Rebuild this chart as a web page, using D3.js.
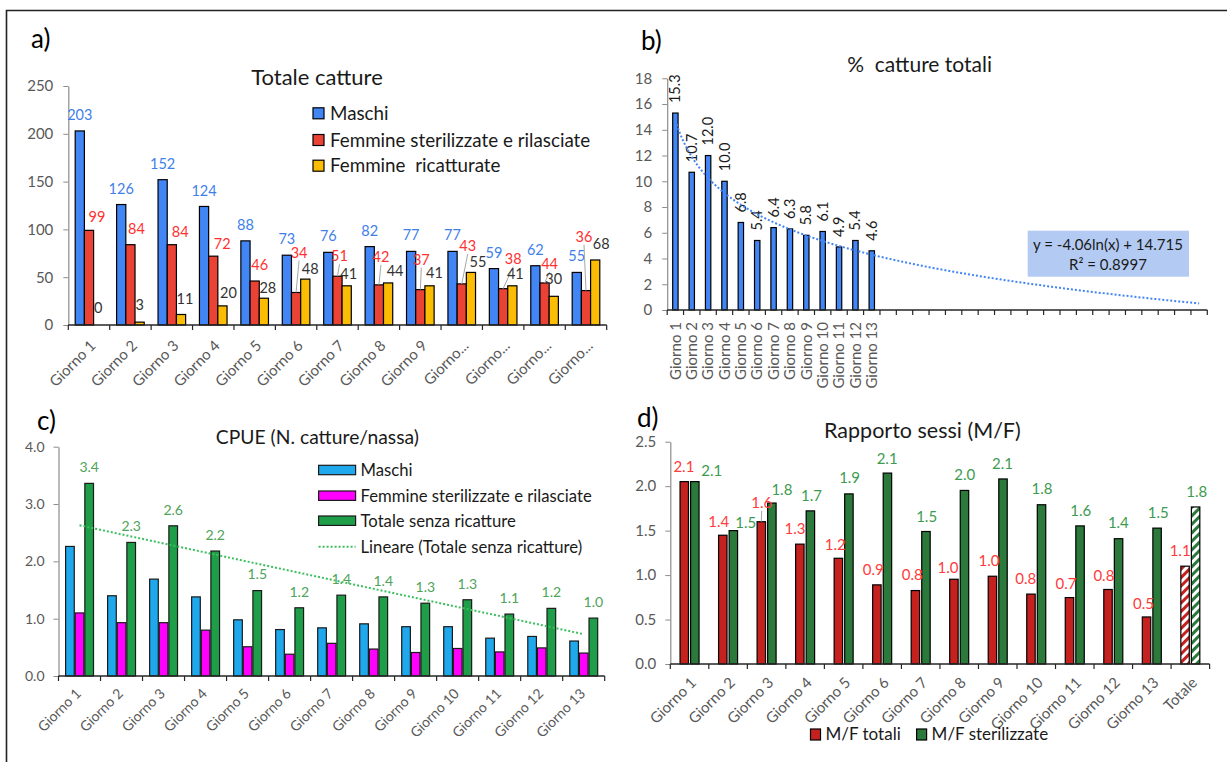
<!DOCTYPE html>
<html>
<head>
<meta charset="utf-8">
<script src="https://cdnjs.cloudflare.com/ajax/libs/d3/7.8.5/d3.min.js"></script>
<style>
    body { margin: 0; background: #fff; }
    svg text { font-family: Lato, 'Open Sans', sans-serif; }
</style>
</head>
<body>
<svg id="chart" width="1227" height="762"></svg>
<script>
// Data
const giorni = ['Giorno 1', 'Giorno 2', 'Giorno 3', 'Giorno 4', 'Giorno 5', 'Giorno 6', 'Giorno 7',
    'Giorno 8', 'Giorno 9', 'Giorno 10', 'Giorno 11', 'Giorno 12', 'Giorno 13'];
const giorniBrevi = ['Giorno 1', 'Giorno 2', 'Giorno 3', 'Giorno 4', 'Giorno 5', 'Giorno 6', 'Giorno 7',
    'Giorno 8', 'Giorno 9', 'Giorno...', 'Giorno...', 'Giorno...', 'Giorno...'];

// a) Totale catture
const maschi = [203, 126, 152, 124, 88, 73, 76, 82, 77, 77, 59, 62, 55];
const femmineSterilizzate = [99, 84, 84, 72, 46, 34, 51, 42, 37, 43, 38, 44, 36];
const femmineRicatturate = [0, 3, 11, 20, 28, 48, 41, 44, 41, 55, 41, 30, 68];
const ticksA = [0, 50, 100, 150, 200, 250];

// b) % catture totali
const percentualeCatture = [15.3, 10.7, 12.0, 10.0, 6.8, 5.4, 6.4, 6.3, 5.8, 6.1, 4.9, 5.4, 4.6];
const slotsB = 33;   // 13 days + forecast of the trendline
const ticksB = [0, 2, 4, 6, 8, 10, 12, 14, 16, 18];
const equazioneB = ['y = -4.06ln(x) + 14.715', 'R² = 0.8997'];

// c) CPUE
const cpueMaschi = [2.26, 1.40, 1.69, 1.38, 0.98, 0.81, 0.84, 0.91, 0.86, 0.86, 0.66, 0.69, 0.61];
const cpueFemmine = [1.10, 0.93, 0.93, 0.80, 0.51, 0.38, 0.57, 0.47, 0.41, 0.48, 0.42, 0.49, 0.40];
const cpueTotale = [3.36, 2.33, 2.62, 2.18, 1.49, 1.19, 1.41, 1.38, 1.27, 1.33, 1.08, 1.18, 1.01];
const ticksC = [0, 1, 2, 3, 4];

// d) Rapporto sessi
const categorieD = giorni.concat(['Totale']);
const mfTotali = [2.051, 1.448, 1.600, 1.348, 1.189, 0.890, 0.826, 0.953, 0.987, 0.786, 0.747, 0.838, 0.529, 1.100];
const mfSterilizzate = [2.051, 1.500, 1.810, 1.722, 1.913, 2.147, 1.490, 1.952, 2.081, 1.791, 1.553, 1.409, 1.528, 1.766];
const ticksD = [0, 0.5, 1, 1.5, 2, 2.5];

const svg = d3.select('#chart');
const GREY = '#595959';

// Frame of the figure (top and left edges visible)
svg.append('path')
    .attr('d', 'M6.5,762 L6.5,10.5 L1227,10.5')
    .attr('fill', 'none')
    .attr('stroke', '#222')
    .attr('stroke-width', 1.6);

// Hatch patterns for the "Totale" bars
const defs = svg.append('defs');
[['hatchRed', '#C5221F'], ['hatchGreen', '#2B7A3B']].forEach(([id, col]) => {
    const p = defs.append('pattern')
        .attr('id', id)
        .attr('patternUnits', 'userSpaceOnUse')
        .attr('width', 6).attr('height', 6)
        .attr('patternTransform', 'rotate(45)');
    p.append('rect').attr('width', 6).attr('height', 6).attr('fill', '#fff');
    p.append('rect').attr('width', 3).attr('height', 6).attr('fill', col);
});

// ---------- helpers ----------
function yAxis(g, scale, x, ticks, fmt, size, pad) {
    const axis = g.append('g')
        .attr('transform', `translate(${x},0)`)
        .call(d3.axisLeft(scale).tickValues(ticks).tickFormat(fmt).tickSize(5).tickSizeOuter(0).tickPadding(pad));
    axis.select('.domain').attr('stroke', '#8c8c8c').attr('stroke-width', 1.2);
    axis.selectAll('.tick line').attr('stroke', '#8c8c8c');
    axis.selectAll('text')
        .attr('fill', GREY)
        .style('font-size', size + 'px')
        .style('font-family', 'Lato, sans-serif');
}

function catAxis(g, scale, y, labels, opts) {
    const [x0, x1] = scale.range();
    g.append('line')
        .attr('x1', x0).attr('x2', x1).attr('y1', y).attr('y2', y)
        .attr('stroke', '#262626').attr('stroke-width', 1.4);
    const edges = scale.domain().map(d => scale(d)).concat([x1]);
    g.selectAll(null).data(edges).join('line')
        .attr('x1', d => d).attr('x2', d => d)
        .attr('y1', y).attr('y2', y + 5)
        .attr('stroke', '#262626').attr('stroke-width', 1.2);
    g.selectAll(null).data(scale.domain()).join('text')
        .attr('transform', d => `translate(${scale(d) + scale.bandwidth() / 2 + opts.dx},${y + opts.dy}) rotate(${opts.rotate})`)
        .attr('text-anchor', 'end')
        .attr('dy', '0.35em')
        .attr('fill', GREY)
        .style('font-size', opts.size + 'px')
        .text((d, i) => labels[i] || '');
}

function title(text, x, y, size) {
    svg.append('text')
        .attr('x', x).attr('y', y)
        .attr('text-anchor', 'middle')
        .attr('dy', '0.35em')
        .attr('fill', '#1a1a1a')
        .style('font-size', size + 'px')
        .style('white-space', 'pre')
        .text(text);
}

function panelLetter(text, x, y) {
    svg.append('text')
        .attr('x', x).attr('y', y)
        .attr('dy', '0.35em')
        .attr('fill', '#000')
        .style('font-size', '26px')
        .text(text);
}

// value labels: nudge = [dx, dy of label centre from bar top]
function valueLabels(g, values, cx, top, nudge, color, size, fmt) {
    values.forEach((v, i) => {
        const [dx, dy] = nudge[i];
        const lx = cx(i) + dx;
        const ly = top(i) + dy;
        if (-dy > 18) {
            g.append('line')
                .attr('x1', cx(i)).attr('y1', top(i))
                .attr('x2', lx).attr('y2', ly + 8)
                .attr('stroke', '#a6a6a6').attr('stroke-width', 1);
        }
        g.append('text')
            .attr('x', lx).attr('y', ly)
            .attr('dy', '0.35em')
            .attr('text-anchor', 'middle')
            .attr('fill', color)
            .style('font-size', size + 'px')
            .text(fmt(v));
    });
}

// ---------- a) Totale catture ----------
const gA = svg.append('g');
const xA = d3.scaleBand().domain(giorni).range([68.3, 606.7]);
const innerA = d3.scaleBand().domain(['m', 'f', 'r']).range([6.9, 34.5]);
const yA = d3.scaleLinear().domain([0, 250]).range([325, 86]);

const seriesA = [
    { key: 'm', name: 'Maschi', values: maschi, fill: '#4285F4', text: '#3F7FE9' },
    { key: 'f', name: 'Femmine sterilizzate e rilasciate', values: femmineSterilizzate, fill: '#EA4335', text: '#FF3030' },
    { key: 'r', name: 'Femmine  ricatturate', values: femmineRicatturate, fill: '#FBBC04', text: '#333333' }
];

seriesA.forEach(s => {
    gA.selectAll(null).data(s.values).join('rect')
        .attr('x', (d, i) => xA(giorni[i]) + innerA(s.key))
        .attr('width', innerA.bandwidth())
        .attr('y', d => yA(d))
        .attr('height', d => yA(0) - yA(d))
        .attr('fill', s.fill)
        .attr('stroke', '#000')
        .attr('stroke-width', 1.2);
});

yAxis(gA, yA, 68.3, ticksA, d3.format('d'), 15, 10);
catAxis(gA, xA, 325, giorniBrevi, { dx: 4, dy: 18, rotate: -45, size: 15 });

const nudgeM = maschi.map(() => [0, -16]);
const nudgeF = [[8, -13.4], [6, -15.7], [8.4, -12.7], [9, -12], [5, -16], [3, -40], [2, -20], [2, -28],
    [1, -30], [6, -38], [10, -30], [5, -19], [-2, -54]];
const nudgeR = [[0, -16.7], [0, -17], [4, -15.5], [6, -13], [4, -10.5], [5, -10], [2, -12], [7, -12],
    [5, -12.5], [7, -10], [3, -11.5], [0, -17], [6, -16]];
[nudgeM, nudgeF, nudgeR].forEach((nudge, k) => {
    const s = seriesA[k];
    valueLabels(gA, s.values,
        i => xA(giorni[i]) + innerA(s.key) + innerA.bandwidth() / 2,
        i => yA(s.values[i]), nudge, s.text, 14.5, d3.format('d'));
});

// legend a
seriesA.forEach((s, i) => {
    const ly = [113.3, 140, 165.7][i];
    gA.append('rect')
        .attr('x', 313).attr('y', ly - 5.5).attr('width', 11).attr('height', 11)
        .attr('fill', s.fill).attr('stroke', '#000').attr('stroke-width', 1.2);
    gA.append('text')
        .attr('x', 330).attr('y', ly).attr('dy', '0.35em')
        .attr('fill', '#1a1a1a')
        .style('font-size', '18.8px')
        .style('white-space', 'pre')
        .text(s.name);
});

panelLetter('a)', 31, 39);
title('Totale catture', 317, 77.7, 22);

// ---------- b) % catture totali ----------
const gB = svg.append('g');
const slots = d3.range(1, slotsB + 1);
const xB = d3.scaleBand().domain(slots).range([667.2, 1207.3]);
const yB = d3.scaleLinear().domain([0, 18]).range([310, 78.3]);
const centreB = t => xB(1) + xB.bandwidth() / 2 + (t - 1) * xB.bandwidth();
const barWB = 5.4;

gB.selectAll(null).data(percentualeCatture).join('rect')
    .attr('x', (d, i) => centreB(i + 1) - barWB / 2)
    .attr('width', barWB)
    .attr('y', d => yB(d))
    .attr('height', d => yB(0) - yB(d))
    .attr('fill', '#4285F4')
    .attr('stroke', '#000')
    .attr('stroke-width', 1.2);

gB.selectAll(null).data(percentualeCatture).join('text')
    .attr('transform', (d, i) => `translate(${centreB(i + 1)},${yB(d) - 10}) rotate(-90)`)
    .attr('dy', '0.35em')
    .attr('fill', '#1a1a1a')
    .style('font-size', '14.5px')
    .text(d => d3.format('.1f')(d));

// logarithmic trendline fitted to the data (least squares on ln x)
const lnX = percentualeCatture.map((d, i) => Math.log(i + 1));
const mLn = d3.mean(lnX), mP = d3.mean(percentualeCatture);
const slopeB = d3.sum(lnX, (l, i) => (l - mLn) * (percentualeCatture[i] - mP)) / d3.sum(lnX, l => (l - mLn) ** 2);
const interB = mP - slopeB * mLn;
const trendPtsB = d3.range(1, slotsB + 0.01, 0.25);
gB.append('path')
    .datum(trendPtsB)
    .attr('d', d3.line().x(t => centreB(t)).y(t => yB(slopeB * Math.log(t) + interB)))
    .attr('fill', 'none')
    .attr('stroke', '#4285F4')
    .attr('stroke-width', 2)
    .attr('stroke-dasharray', '2,2');

yAxis(gB, yB, 667.2, ticksB, d3.format('d'), 15, 10);
catAxis(gB, xB, 310, giorni, { dx: 0, dy: 12, rotate: -90, size: 15 });

gB.append('rect')
    .attr('x', 1027.7).attr('y', 230.7).attr('width', 161.3).attr('height', 46)
    .attr('fill', '#B3CBF3');
equazioneB.forEach((t, i) => {
    gB.append('text')
        .attr('x', 1108).attr('y', 245 + i * 20).attr('dy', '0.35em')
        .attr('text-anchor', 'middle')
        .attr('fill', '#1a1a1a')
        .style('font-size', '15px')
        .text(t);
});

panelLetter('b)', 641, 41);
title('%  catture totali', 919.6, 65, 21);

// ---------- c) CPUE ----------
const gC = svg.append('g');
const xC = d3.scaleBand().domain(giorni).range([58.5, 604.7]);
const innerC = d3.scaleBand().domain(['m', 'f', 't']).range([7.1, 35.0]).paddingInner(0.1);
const yC = d3.scaleLinear().domain([0, 4]).range([676, 446.7]);

const seriesC = [
    { key: 'm', name: 'Maschi', values: cpueMaschi, fill: '#1FA9EC' },
    { key: 'f', name: 'Femmine sterilizzate e rilasciate', values: cpueFemmine, fill: '#FF00FF' },
    { key: 't', name: 'Totale senza ricatture', values: cpueTotale, fill: '#1E9E48' }
];
seriesC.forEach(s => {
    gC.selectAll(null).data(s.values).join('rect')
        .attr('x', (d, i) => xC(giorni[i]) + innerC(s.key))
        .attr('width', innerC.bandwidth())
        .attr('y', d => yC(d))
        .attr('height', d => yC(0) - yC(d))
        .attr('fill', s.fill)
        .attr('stroke', '#1a1a1a')
        .attr('stroke-width', 1.2);
});

valueLabels(gC, cpueTotale,
    i => xC(giorni[i]) + innerC('t') + innerC.bandwidth() / 2,
    i => yC(cpueTotale[i]), cpueTotale.map(() => [0, -16]), '#4EA35A', 14, d3.format('.1f'));

// linear trendline fitted to "Totale senza ricatture"
const xs = cpueTotale.map((d, i) => i + 1);
const mx = d3.mean(xs), my = d3.mean(cpueTotale);
const slopeC = d3.sum(xs, (x, i) => (x - mx) * (cpueTotale[i] - my)) / d3.sum(xs, x => (x - mx) ** 2);
const interC = my - slopeC * mx;
const centreC = t => xC(giorni[0]) + xC.bandwidth() / 2 + (t - 1) * xC.bandwidth();
gC.append('line')
    .attr('x1', centreC(1)).attr('y1', yC(slopeC * 1 + interC))
    .attr('x2', centreC(13)).attr('y2', yC(slopeC * 13 + interC))
    .attr('stroke', '#3CBF5E')
    .attr('stroke-width', 2)
    .attr('stroke-dasharray', '2,2');

yAxis(gC, yC, 58.5, ticksC, d3.format('.1f'), 14, 9);
catAxis(gC, xC, 676, giorni, { dx: -1, dy: 15, rotate: -45, size: 14 });

const legendC = seriesC.map(s => ({ name: s.name, fill: s.fill }))
    .concat([{ name: 'Lineare (Totale senza ricatture)', fill: null }]);
legendC.forEach((s, i) => {
    const ly = [470, 495.7, 520.7, 546.7][i];
    if (s.fill) {
        gC.append('rect')
            .attr('x', 318.6).attr('y', ly - 4.7).attr('width', 37).attr('height', 9.4)
            .attr('fill', s.fill).attr('stroke', '#1a1a1a').attr('stroke-width', 1.2);
    } else {
        gC.append('line')
            .attr('x1', 318.6).attr('x2', 355.6).attr('y1', ly).attr('y2', ly)
            .attr('stroke', '#3CBF5E').attr('stroke-width', 2).attr('stroke-dasharray', '2,2');
    }
    gC.append('text')
        .attr('x', 360.5).attr('y', ly).attr('dy', '0.35em')
        .attr('fill', '#1a1a1a')
        .style('font-size', '16.7px')
        .text(s.name);
});

panelLetter('c)', 37, 421);
title('CPUE (N. catture/nassa)', 317.4, 437.7, 19.3);

// ---------- d) Rapporto sessi ----------
const gD = svg.append('g');
const xD = d3.scaleBand().domain(categorieD).range([670.3, 1209.6]);
const innerD = d3.scaleBand().domain(['t', 's']).range([9.75, 28.75]).paddingInner(0.2);
const yD = d3.scaleLinear().domain([0, 2.5]).range([664, 441.7]);

const seriesD = [
    { key: 't', name: 'M/F totali', values: mfTotali, fill: '#C5221F', hatch: 'url(#hatchRed)', text: '#FF3B3B' },
    { key: 's', name: 'M/F sterilizzate', values: mfSterilizzate, fill: '#2B7A3B', hatch: 'url(#hatchGreen)', text: '#3D9B50' }
];
seriesD.forEach(s => {
    gD.selectAll(null).data(s.values).join('rect')
        .attr('x', (d, i) => xD(categorieD[i]) + innerD(s.key))
        .attr('width', innerD.bandwidth())
        .attr('y', d => yD(d))
        .attr('height', d => yD(0) - yD(d))
        .attr('fill', (d, i) => categorieD[i] === 'Totale' ? s.hatch : s.fill)
        .attr('stroke', '#000')
        .attr('stroke-width', 1.2);
});

const nudgeDT = [[-0.4, -15], [-4.1, -13.4], [0.4, -19], [-4.9, -15.6], [-3.1, -13.9], [-3.7, -15.6],
    [-3.1, -15.9], [-6, -11.2], [-3.5, -15.3], [-5.3, -15.4], [-3.5, -14], [-4.1, -13.6], [-3.1, -13.6], [-4.9, -15.5]];
const nudgeDS = [[17, -10.7], [12.5, -7.9], [10, -13], [1.2, -15.3], [0.7, -15.8], [-0.3, -14.5],
    [0.7, -14.8], [0.2, -15.6], [-0.5, -15.7], [0.5, -15.5], [0.7, -15.5], [-0.2, -15.9], [1.1, -15.6], [1.2, -15.6]];
[nudgeDT, nudgeDS].forEach((nudge, k) => {
    const s = seriesD[k];
    valueLabels(gD, s.values,
        i => xD(categorieD[i]) + innerD(s.key) + innerD.bandwidth() / 2,
        i => yD(s.values[i]), nudge, s.text, 15, d3.format('.1f'));
});

yAxis(gD, yD, 670.3, ticksD, d3.format('.1f'), 15, 9);
catAxis(gD, xD, 664, categorieD, { dx: 4, dy: 16, rotate: -45, size: 15 });

// legend d
seriesD.forEach((s, i) => {
    const lx = [810.5, 916.6][i];
    gD.append('rect')
        .attr('x', lx).attr('y', 729).attr('width', 10).attr('height', 11)
        .attr('fill', s.fill).attr('stroke', '#000').attr('stroke-width', 1.2);
    gD.append('text')
        .attr('x', lx + 15).attr('y', 734.3).attr('dy', '0.35em')
        .attr('fill', '#1a1a1a')
        .style('font-size', '17px')
        .text(s.name);
});

panelLetter('d)', 637, 418);
title('Rapporto sessi (M/F)', 922.4, 430.7, 21.5);
</script>
</body>
</html>
